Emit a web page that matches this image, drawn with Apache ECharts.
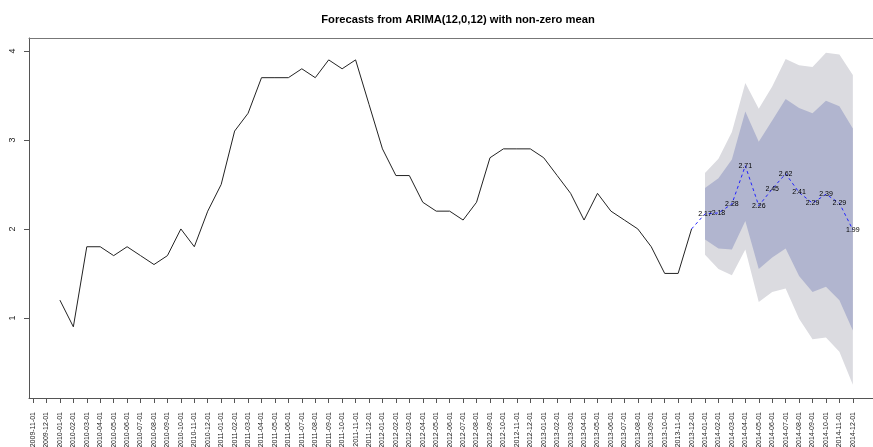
<!DOCTYPE html>
<html>
<head>
<meta charset="utf-8">
<script src="https://cdn.jsdelivr.net/npm/echarts@6/dist/echarts.min.js"></script>
<style>
  html, body { margin: 0; padding: 0; background: #fff; }
  #chart { width: 873px; height: 447px; }
</style>
</head>
<body>
<div id="chart"></div>
<script>
// month labels on the x axis (index 0 = 2009-11-01)
var months = [
  '2009-11-01', '2009-12-01',
  '2010-01-01', '2010-02-01', '2010-03-01', '2010-04-01', '2010-05-01', '2010-06-01',
  '2010-07-01', '2010-08-01', '2010-09-01', '2010-10-01', '2010-11-01', '2010-12-01',
  '2011-01-01', '2011-02-01', '2011-03-01', '2011-04-01', '2011-05-01', '2011-06-01',
  '2011-07-01', '2011-08-01', '2011-09-01', '2011-10-01', '2011-11-01', '2011-12-01',
  '2012-01-01', '2012-02-01', '2012-03-01', '2012-04-01', '2012-05-01', '2012-06-01',
  '2012-07-01', '2012-08-01', '2012-09-01', '2012-10-01', '2012-11-01', '2012-12-01',
  '2013-01-01', '2013-02-01', '2013-03-01', '2013-04-01', '2013-05-01', '2013-06-01',
  '2013-07-01', '2013-08-01', '2013-09-01', '2013-10-01', '2013-11-01', '2013-12-01',
  '2014-01-01', '2014-02-01', '2014-03-01', '2014-04-01', '2014-05-01', '2014-06-01',
  '2014-07-01', '2014-08-01', '2014-09-01', '2014-10-01', '2014-11-01', '2014-12-01'
];
var yTicks = [1, 2, 3, 4];

// observed series, 2010-01 .. 2013-12
var obsStart = 2; // index of 2010-01-01 in months
var observed = [
  1.2, 0.9, 1.8, 1.8, 1.7, 1.8, 1.7, 1.6, 1.7, 2.0, 1.8, 2.2,
  2.5, 3.1, 3.3, 3.7, 3.7, 3.7, 3.8, 3.7, 3.9, 3.8, 3.9, 3.4,
  2.9, 2.6, 2.6, 2.3, 2.2, 2.2, 2.1, 2.3, 2.8, 2.9, 2.9, 2.9,
  2.8, 2.6, 2.4, 2.1, 2.4, 2.2, 2.1, 2.0, 1.8, 1.5, 1.5, 2.0
];

// forecasts, 2014-01 .. 2014-12
var fcStart = 50; // index of 2014-01-01
var forecast = [2.17, 2.18, 2.28, 2.71, 2.26, 2.45, 2.62, 2.41, 2.29, 2.39, 2.29, 1.99];
var lo80 = [1.88, 1.78, 1.77, 2.09, 1.55, 1.68, 1.78, 1.47, 1.29, 1.35, 1.20, 0.86];
var hi80 = [2.46, 2.57, 2.78, 3.32, 2.98, 3.22, 3.46, 3.36, 3.30, 3.44, 3.38, 3.13];
var lo95 = [1.71, 1.55, 1.48, 1.77, 1.18, 1.29, 1.33, 0.99, 0.76, 0.78, 0.62, 0.25];
var hi95 = [2.63, 2.79, 3.09, 3.64, 3.35, 3.60, 3.91, 3.84, 3.82, 3.98, 3.96, 3.73];

var tickIdx = months.map(function (m, i) { return i; });

function bandData(lo, hi) {
  return forecast.map(function (v, i) { return [fcStart + i, lo[i], hi[i]]; });
}

// draw the whole band as one polygon (upper edge, then lower edge back)
function bandRender(params, api) {
  if (params.dataIndex !== 0) return;
  var n = forecast.length;
  var top = [], bottom = [];
  for (var i = 0; i < n; i++) {
    var x = fcStart + i;
    top.push(api.coord([x, api.value(2, i)]));
    bottom.unshift(api.coord([x, api.value(1, i)]));
  }
  return {
    type: 'polygon',
    shape: { points: top.concat(bottom) },
    style: { fill: api.visual('color') },
    silent: true
  };
}

var chart = echarts.init(document.getElementById('chart'));

var fcLine = [[fcStart - 1, observed[observed.length - 1]]].concat(
  forecast.map(function (v, i) {
    return { value: [fcStart + i, v], label: { show: true } };
  })
);

var xMin = -0.3, xMax = 62.5;

var option = {
  animation: false,
  textStyle: { fontFamily: 'Liberation Sans' },
  title: {
    text: 'Forecasts from ARIMA(12,0,12) with non-zero mean',
    left: 453,
    textAlign: 'center',
    top: 9,
    textStyle: { fontSize: 11.2, fontWeight: 'bold', color: '#000', fontFamily: 'Liberation Sans' }
  },
  grid: {
    left: 29, right: 0, top: 38, bottom: 49,
    show: false, containLabel: false, outerBoundsMode: 'none'
  },
  xAxis: [
    {
      type: 'value',
      min: xMin,
      max: xMax,
      axisLine: { show: true, onZero: false, lineStyle: { color: '#555' } },
      splitLine: { show: false },
      axisTick: { show: true, length: 5, customValues: tickIdx, lineStyle: { color: '#555' } },
      axisLabel: {
        customValues: tickIdx,
        rotate: 90,
        margin: 14,
        fontSize: 7,
        color: '#222',
        formatter: function (v) { return months[Math.round(v)] || ''; }
      }
    },
    {
      // top frame line only
      type: 'value',
      position: 'top',
      min: xMin,
      max: xMax,
      axisLine: { show: true, onZero: false, lineStyle: { color: '#777' } },
      splitLine: { show: false },
      axisTick: { show: false },
      axisLabel: { show: false }
    }
  ],
  yAxis: {
    type: 'value',
    min: 0.1,
    max: 4.146,
    axisLine: { show: true, onZero: false, lineStyle: { color: '#555' } },
    splitLine: { show: false },
    axisTick: { show: true, length: 5, customValues: yTicks, lineStyle: { color: '#555' } },
    axisLabel: {
      customValues: yTicks,
      rotate: 90,
      margin: 12,
      fontSize: 9,
      color: '#222'
    }
  },
  series: [
    {
      name: '95%',
      type: 'custom',
      renderItem: bandRender,
      itemStyle: { color: '#dbdbe0' },
      encode: { x: 0, y: [1, 2] },
      data: bandData(lo95, hi95),
      z: 1
    },
    {
      name: '80%',
      type: 'custom',
      renderItem: bandRender,
      itemStyle: { color: '#b1b5cf' },
      encode: { x: 0, y: [1, 2] },
      data: bandData(lo80, hi80),
      z: 2
    },
    {
      name: 'observed',
      type: 'line',
      showSymbol: false,
      lineStyle: { color: '#222', width: 1 },
      data: observed.map(function (v, i) { return [obsStart + i, v]; }),
      z: 3
    },
    {
      name: 'forecast',
      type: 'line',
      symbol: 'circle',
      symbolSize: 0,
      showSymbol: true,
      lineStyle: { color: '#2222ff', width: 1, type: [3, 3] },
      itemStyle: { color: '#2222ff' },
      label: {
        show: false,
        position: 'inside',
        fontSize: 7,
        color: '#000',
        formatter: function (p) { return p.value[1].toFixed(2); }
      },
      data: fcLine,
      z: 4
    }
  ]
};

chart.setOption(option);
</script>
</body>
</html>
